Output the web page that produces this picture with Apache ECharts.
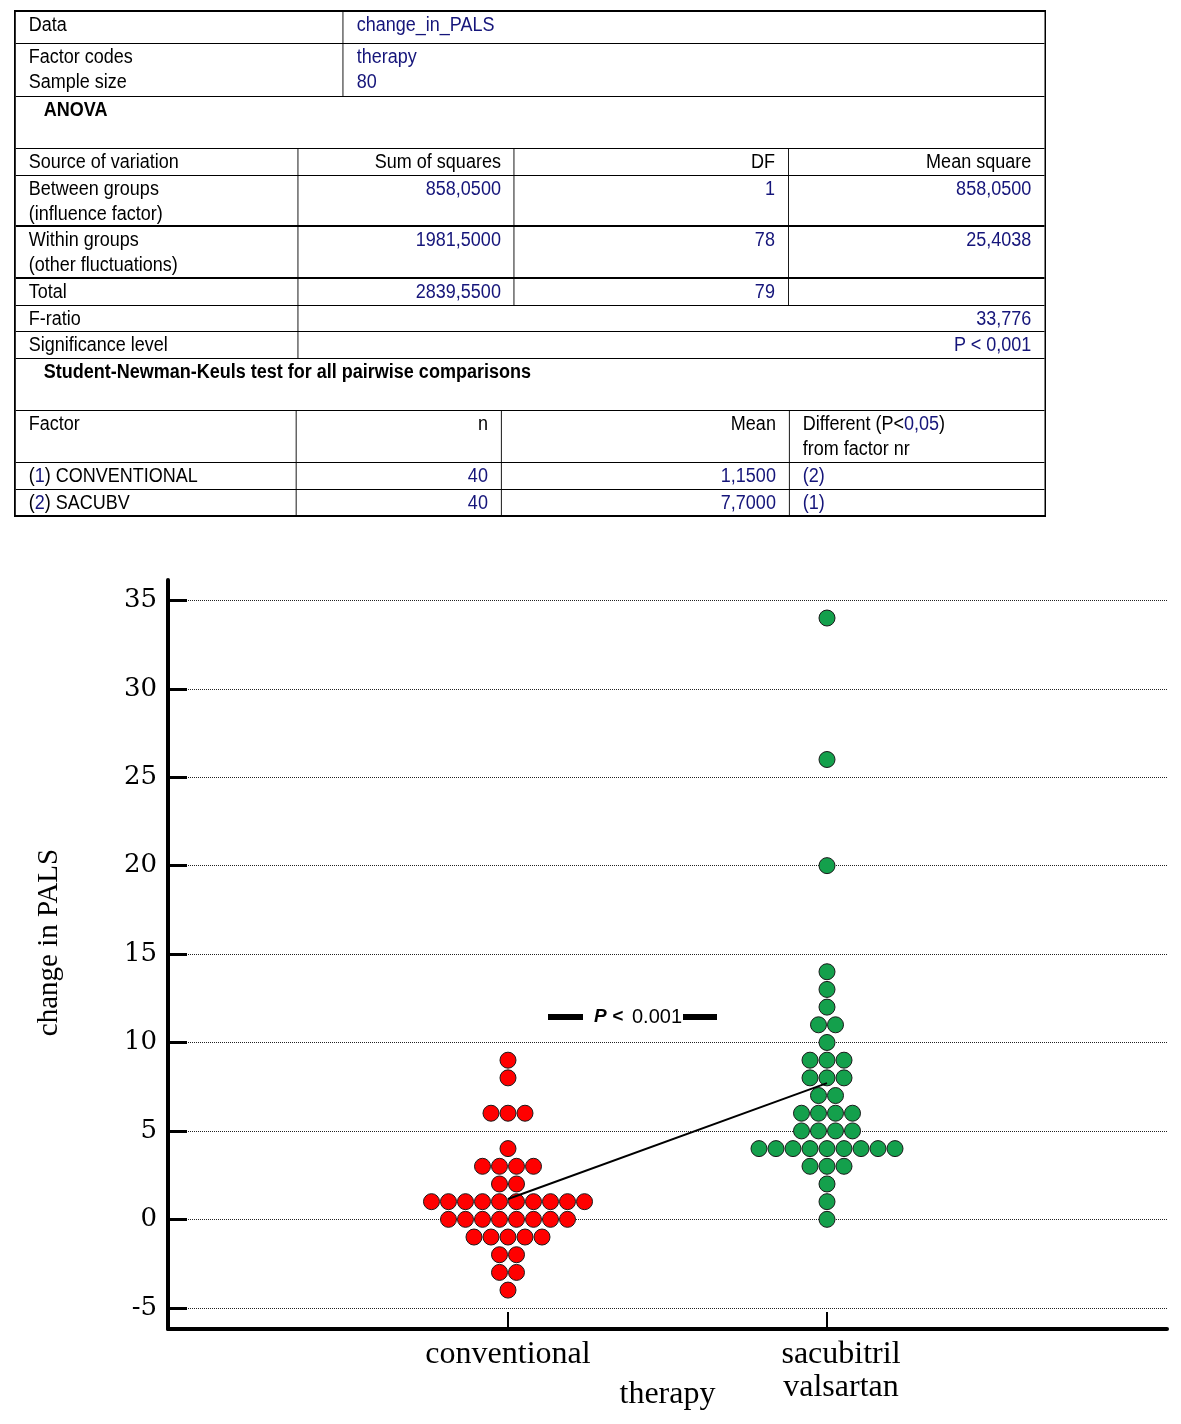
<!DOCTYPE html>
<html>
<head>
<meta charset="utf-8">
<script src="https://cdn.jsdelivr.net/npm/echarts@6/dist/echarts.min.js"></script>
<style>
  html, body { margin:0; padding:0; background:#fff; }
  #page { position:relative; width:1181px; height:1424px; overflow:hidden; }
  #chart { position:absolute; left:0; top:0; width:1181px; height:1424px; }
  #tbl { position:absolute; left:14px; top:10px; transform-origin:0 0; z-index:2;
         box-sizing:border-box; border:2px solid #000; color:#000; font-size:20px; }
  .row { display:flex; box-sizing:border-box; border-bottom:1px solid #000; }
  .row.thick { border-bottom:2px solid #000; }
  .row:last-child { border-bottom:none; }
  .cell { box-sizing:border-box; border-right:1px solid #000; line-height:25px;
          white-space:nowrap; overflow:hidden; }
  .cell:last-child { border-right:none; flex:1; }
  .r { text-align:right; }
  .v { color:#15157a; }
  .hdr { font-weight:bold; }
</style>
</head>
<body>
<div id="page">
  <div id="chart"></div>
  <div id="tbl"></div>
</div>
<script>
// ---------------- data ----------------
const categories = ['conventional', 'sacubitril\nvalsartan'];
const conventional = [9, 8, 6, 6, 6, 4, 3, 3, 3, 3, 2, 2,
  1, 1, 1, 1, 1, 1, 1, 1, 1, 1,
  0, 0, 0, 0, 0, 0, 0, 0,
  -1, -1, -1, -1, -1, -2, -2, -3, -3, -4];
const sacubitril = [34, 26, 20, 14, 13, 12, 11, 11, 10, 9, 9, 9, 8, 8, 8, 7, 7,
  6, 6, 6, 6, 5, 5, 5, 5,
  4, 4, 4, 4, 4, 4, 4, 4, 4,
  3, 3, 3, 2, 1, 0];
const groupMeans = [1.15, 7.7];
const yTicks = [-5, 0, 5, 10, 15, 20, 25, 30, 35];
const pLabel = '0.001';

// table contents
const infoRows = [
  [['Data'], ['change_in_PALS']],
  [['Factor codes', 'Sample size'], ['therapy', '80']]
];
const anovaTitle = 'ANOVA';
const anovaHeader = ['Source of variation', 'Sum of squares', 'DF', 'Mean square'];
const anovaRows = [
  [['Between groups', '(influence factor)'], '858,0500', '1', '858,0500'],
  [['Within groups', '(other fluctuations)'], '1981,5000', '78', '25,4038'],
  [['Total'], '2839,5500', '79', '']
];
const fRatio = ['F-ratio', '33,776'];
const sigLevel = ['Significance level', 'P < 0,001'];
const snkTitle = 'Student-Newman-Keuls test for all pairwise comparisons';
const snkHeader = ['Factor', 'n', 'Mean', 'Different (P<0,05)', 'from factor nr'];
const snkRows = [
  ['1', 'CONVENTIONAL', '40', '1,1500', '(2)'],
  ['2', 'SACUBV', '40', '7,7000', '(1)']
];

// ---------------- table ----------------
const tbl = document.getElementById('tbl');
tbl.style.fontFamily = '"Liberation Sans", Arial, sans-serif';
const sx = 0.9;
const W = v => (v / sx) + 'px';
tbl.style.width = W(1032);
tbl.style.height = '507px';
tbl.style.transform = 'scaleX(' + sx + ')';
const padX = W(13), padHdr = W(28);

function cell(html, w, cls) {
  const pad = (cls || '').indexOf('hdr') >= 0 ? 'padding:0 ' + padX + ' 0 ' + padHdr : 'padding:0 ' + padX;
  return '<div class="cell ' + (cls || '') + '" style="' + pad + (w ? ';width:' + W(w) : '') + '">' + html + '</div>';
}
function row(h, inner, cls) {
  return '<div class="row ' + (cls || '') + '" style="height:' + h + 'px">' + inner + '</div>';
}
const lines = arr => arr.join('<br>');
let html = '';
html += row(32, cell(lines(infoRows[0][0]), 328) + cell('<span class="v">' + lines(infoRows[0][1]) + '</span>'));
html += row(53, cell(lines(infoRows[1][0]), 328) + cell('<span class="v">' + lines(infoRows[1][1]) + '</span>'));
html += row(52, cell(anovaTitle, 0, 'hdr'));
const aw = [283, 216, 274];
html += row(27, cell(anovaHeader[0], aw[0]) + cell(anovaHeader[1], aw[1], 'r') + cell(anovaHeader[2], aw[2], 'r') + cell(anovaHeader[3], 0, 'r'));
const aH = [51, 52, 27];
anovaRows.forEach((r, i) => {
  html += row(aH[i], cell(lines(r[0]), aw[0]) + cell(r[1], aw[1], 'r v') + cell(r[2], aw[2], 'r v') + cell(r[3], 0, 'r v'), i < 2 ? 'thick' : '');
});
html += row(26, cell(fRatio[0], aw[0]) + cell(fRatio[1], 0, 'r v'));
html += row(27, cell(sigLevel[0], aw[0]) + cell(sigLevel[1], 0, 'r v'));
html += row(52, cell(snkTitle, 0, 'hdr'));
const sw = [281, 205, 288];
html += row(52, cell(snkHeader[0], sw[0]) + cell(snkHeader[1], sw[1], 'r') + cell(snkHeader[2], sw[2], 'r') +
  cell(snkHeader[3].replace('0,05', '<span class="v">0,05</span>') + '<br>' + snkHeader[4]));
snkRows.forEach(r => {
  html += row(27, cell('(<span class="v">' + r[0] + '</span>) ' + r[1], sw[0]) + cell(r[2], sw[1], 'r v') + cell(r[3], sw[2], 'r v') + cell(r[4], 0, 'v'));
});
tbl.innerHTML = html;

// ---------------- chart ----------------
const SPACING = 0.0533; // horizontal dot spacing (x-axis units)
function swarm(values, center) {
  const counts = {};
  values.forEach(v => { counts[v] = (counts[v] || 0) + 1; });
  const used = {};
  return values.map(v => {
    const k = counts[v];
    const j = used[v] = (used[v] === undefined ? 0 : used[v] + 1);
    return [center + (j - (k - 1) / 2) * SPACING, v];
  });
}
const chart = echarts.init(document.getElementById('chart'), null, { renderer: 'canvas' });
const serif = '"Liberation Serif", "Times New Roman", serif';
chart.setOption({
  animation: false,
  backgroundColor: '#fff',
  grid: { left: 168, right: 14, top: 580, bottom: 95, containLabel: false, outerBoundsMode: 'none' },
  xAxis: {
    type: 'value', min: -0.0658, max: 3.0658,
    name: 'therapy', nameLocation: 'middle', nameGap: 50, nameMoveOverlap: false,
    nameTextStyle: { fontFamily: serif, fontSize: 32, color: '#000' },
    axisLine: { show: true, onZero: false, lineStyle: { color: '#000', width: 4 } },
    axisTick: { show: true, inside: true, length: 17, customValues: [1, 2], lineStyle: { color: '#000', width: 2 } },
    axisLabel: {
      customValues: [1, 2], margin: 9, color: '#000',
      formatter: v => v === 1 ? '{a|' + categories[0] + '}' : '{b|' + categories[1].split('\n').join('}\n{b|') + '}',
      rich: {
        a: { fontFamily: serif, fontSize: 32, lineHeight: 33, color: '#000' },
        b: { fontFamily: serif, fontSize: 32, lineHeight: 33, color: '#000', padding: [0, 0, 0, 28] }
      }
    },
    splitLine: { show: false }
  },
  yAxis: {
    type: 'value', min: -6.2, max: 36.15,
    name: 'change in PALS', nameLocation: 'middle', nameGap: 104, nameRotate: 90, nameMoveOverlap: false,
    nameTextStyle: { fontFamily: serif, fontSize: 29, color: '#000', padding: [0, 0, 0, 24] },
    axisLine: { show: true, onZero: false, lineStyle: { color: '#000', width: 4 } },
    axisTick: { show: true, inside: true, length: 19, customValues: yTicks, lineStyle: { color: '#000', width: 3 } },
    axisLabel: { customValues: yTicks, margin: 11, color: '#000', fontFamily: '"DejaVu Serif", serif', fontSize: 26 },
    splitLine: { show: true, lineStyle: { color: '#222', width: 1, type: 'dotted' } }
  },
  series: [
    {
      type: 'scatter', name: 'conventional', data: swarm(conventional, 1),
      symbol: 'circle', symbolSize: 16, z: 2,
      itemStyle: { color: '#ff0000', borderColor: '#1a1a1a', borderWidth: 1, opacity: 1 }
    },
    {
      type: 'scatter', name: 'sacubitril valsartan', data: swarm(sacubitril, 2),
      symbol: 'circle', symbolSize: 16, z: 2,
      itemStyle: { color: '#14a04c', borderColor: '#1a1a1a', borderWidth: 1, opacity: 1 }
    },
    {
      type: 'line', name: 'means', data: groupMeans.map((m, i) => [i + 1, m]),
      symbol: 'none', z: 5,
      lineStyle: { color: '#000', width: 2 }
    }
  ],
  graphic: [
    { type: 'rect', shape: { x: 548, y: 1014, width: 35, height: 6 }, style: { fill: '#000' } },
    { type: 'text', x: 594, y: 1017, style: { text: 'P <', font: 'italic bold 19px "Liberation Sans", Arial, sans-serif', fill: '#000', verticalAlign: 'middle' } },
    { type: 'text', x: 632, y: 1017, style: { text: pLabel, font: '20px "Liberation Sans", Arial, sans-serif', fill: '#000', verticalAlign: 'middle' } },
    { type: 'rect', shape: { x: 683, y: 1014, width: 34, height: 6 }, style: { fill: '#000' } }
  ]
});
</script>
</body>
</html>
